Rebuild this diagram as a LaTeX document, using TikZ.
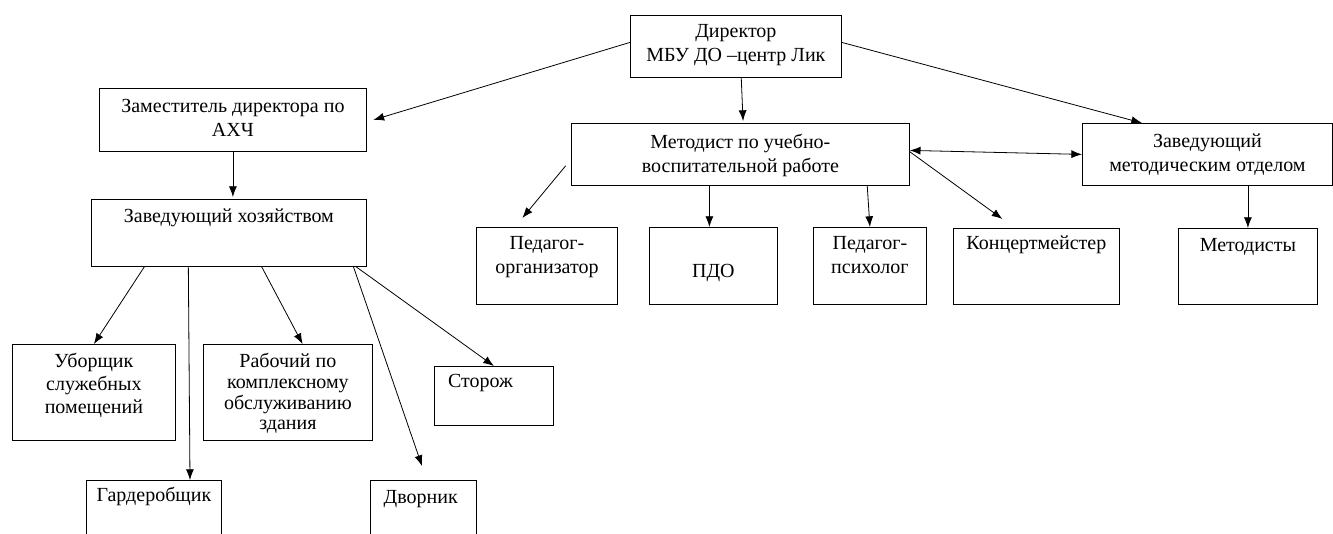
\documentclass[tikz,border=0pt]{standalone}
\usepackage{fontspec}
\setmainfont{Liberation Serif}
\usetikzlibrary{arrows.meta}
\begin{document}
\begin{tikzpicture}[x=.75pt,y=-.75pt,
  box/.style={draw,line width=.6pt,anchor=north west,inner sep=0pt},
  lbl/.style={anchor=north,inner sep=0pt,align=center,font=\fontsize{15}{18}\selectfont},
  arr/.style={-{Latex[length=8pt,width=6pt]},line width=.6pt}]
\useasboundingbox (0,0) rectangle (1333,534);
\clip (0,0) rectangle (1333,534);
% boxes
\node[box,minimum width=158.25pt,minimum height=46.5pt] (dir) at (630,15) {};
\node[box,minimum width=200.25pt,minimum height=47.25pt] (zam) at (99,88) {};
\node[box,minimum width=206.25pt,minimum height=50.25pt] (zhoz) at (91,199) {};
\node[box,minimum width=253.5pt,minimum height=46.5pt] (met) at (571,123) {};
\node[box,minimum width=187.5pt,minimum height=46.5pt] (zmo) at (1082,123) {};
\node[box,minimum width=105.75pt,minimum height=57.75pt] (pedorg) at (476,227) {};
\node[box,minimum width=96pt,minimum height=57.75pt] (pdo) at (649,227) {};
\node[box,minimum width=84.75pt,minimum height=57.75pt] (psih) at (813,227) {};
\node[box,minimum width=124.5pt,minimum height=57pt] (konc) at (953,228) {};
\node[box,minimum width=104.25pt,minimum height=57pt] (metod) at (1178,228) {};
\node[box,minimum width=122.25pt,minimum height=72pt] (ubor) at (12,344) {};
\node[box,minimum width=126.75pt,minimum height=72pt] (rab) at (203,344) {};
\node[box,minimum width=89.25pt,minimum height=44.25pt] (stor) at (434,366) {};
\node[box,minimum width=101.25pt,minimum height=60pt] (gard) at (86,480) {};
\node[box,minimum width=79.5pt,minimum height=60pt] (dvor) at (370,480) {};
% texts
\node[lbl] (dir-t) at ([yshift=-7pt]dir.north) {Директор\\МБУ ДО –центр Лик};
\node[lbl] (zam-t) at ([yshift=-8.5pt]zam.north) {Заместитель директора по\\АХЧ};
\node[lbl] (zhoz-t) at ([yshift=-7pt]zhoz.north) {Заведующий хозяйством};
\node[lbl] (met-t) at ([yshift=-8.5pt]met.north) {Методист по учебно-\\воспитательной работе};
\node[lbl] (zmo-t) at ([yshift=-8pt]zmo.north) {Заведующий\\методическим отделом};
\node[lbl] (pedorg-t) at ([yshift=-7pt]pedorg.north) {Педагог-\\организатор};
\node[lbl] (pdo-t) at ([yshift=-27.5pt]pdo.north) {ПДО};
\node[lbl] (psih-t) at ([yshift=-7pt]psih.north) {Педагог-\\психолог};
\node[lbl] (konc-t) at ([yshift=-6pt]konc.north) {Концертмейстер};
\node[lbl] (metod-t) at ([yshift=-7.5pt]metod.north) {Методисты};
\node[lbl,font=\fontsize{15}{17}\selectfont] (ubor-t) at ([yshift=-7pt]ubor.north) {Уборщик\\служебных\\помещений};
\node[lbl,font=\fontsize{15}{15.5}\selectfont] (rab-t) at ([yshift=-7pt]rab.north) {Рабочий по\\комплексному\\обслуживанию\\здания};
\node[lbl] (stor-t) at ([shift={(-10pt,-6pt)}]stor.north) {Сторож};
\node[lbl] (gard-t) at ([yshift=-5.5pt]gard.north) {Гардеробщик};
\node[lbl] (dvor-t) at ([shift={(-2pt,-7.5pt)}]dvor.north) {Дворник};
% connectors
\draw[arr] ([yshift=3pt]dir.west) -- ([xshift=5pt]zam.east);
\draw[arr] ([xshift=4pt]dir.south) -- ([xshift=2pt,yshift=1.5pt]met.north);
\draw[arr] ([yshift=3pt]dir.east) -- ([xshift=45pt]zmo.north west);
\draw[arr] (zam.south) -- ([yshift=1.5pt]zam.south |- zhoz.north);
\draw[arr] ([xshift=40pt]zhoz.south west) -- (ubor.north);
\draw[arr] ([xshift=73pt]zhoz.south west) -- ([xshift=78pt]gard.north west);
\draw[arr] ([xshift=128pt]zhoz.south west) -- ([xshift=11pt]rab.north);
\draw[arr] ([xshift=-10pt]zhoz.south east) -- ([shift={(39pt,10.5pt)}]dvor.north west);
\draw[arr] ([xshift=-8pt]zhoz.south east) -- (stor.north);
\draw[arr] ([shift={(-4pt,15pt)}]met.south west) -- ([shift={(-18.4pt,6.75pt)}]pedorg.north);
\draw[arr] ([xshift=-3pt]pdo.north |- met.south) -- ([xshift=-3pt]pdo.north);
\draw[arr] ([xshift=-2pt]psih.north |- met.south) -- (psih.north);
\draw[{Latex[length=8pt,width=6pt]}-{Latex[length=8pt,width=6pt]},line width=.6pt] ([yshift=3pt]met.east) -- (zmo.west);
\draw[arr] ([yshift=2pt]met.east) -- ([shift={(-25.5pt,6.75pt)}]konc.north);
\draw[arr] (metod.north |- zmo.south) -- (metod.north);
\end{tikzpicture}
\end{document}
